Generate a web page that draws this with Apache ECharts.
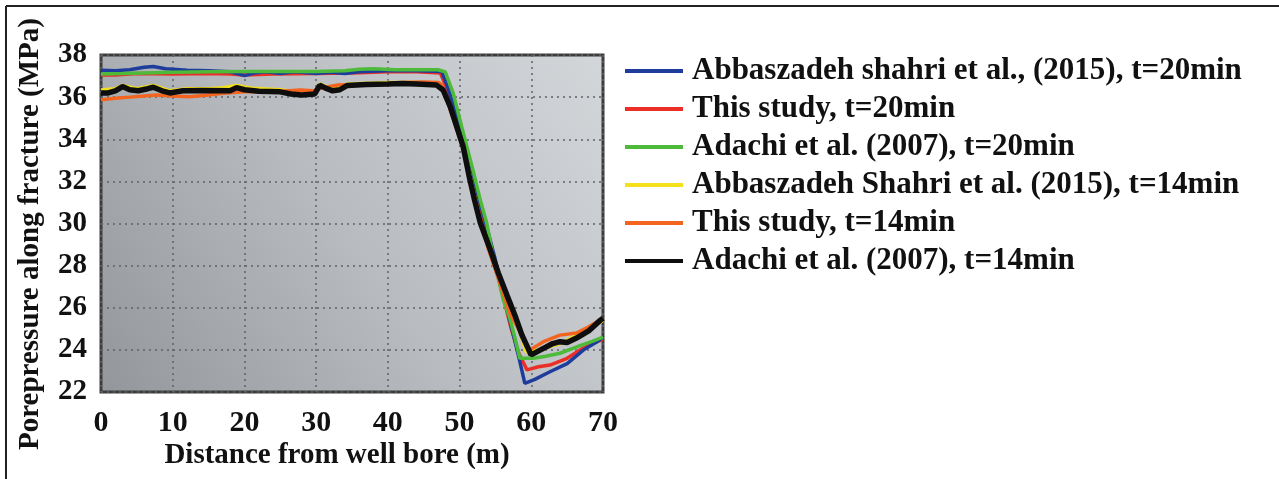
<!DOCTYPE html>
<html>
<head>
<meta charset="utf-8">
<script src="https://cdn.jsdelivr.net/npm/echarts@6/dist/echarts.min.js"></script>
<style>
html,body{margin:0;padding:0;background:#fff;}
#chart{width:1279px;height:479px;}
</style>
</head>
<body>
<div id="chart"></div>
<script>
// ---- data ----
const seriesNames = [
  'Abbaszadeh shahri et al., (2015), t=20min',
  'This study, t=20min',
  'Adachi et al. (2007), t=20min',
  'Abbaszadeh Shahri et al. (2015), t=14min',
  'This study, t=14min',
  'Adachi et al. (2007), t=14min'
];
const xTicks = [0, 10, 20, 30, 40, 50, 60, 70];
const yTicks = [22, 24, 26, 28, 30, 32, 34, 36, 38];

const abbaszadeh20 = [[0,37.28],[2,37.25],[4,37.3],[6,37.42],[7.3,37.45],[9,37.35],[12,37.28],[15,37.25],[18,37.2],[20,37.02],[21.5,37.15],[23,37.2],[25,37.12],[27,37.2],[30,37.12],[32,37.18],[34,37.12],[36,37.2],[40,37.25],[44,37.25],[47.5,37.22],[48.2,36.6],[49.4,35.4],[50.5,34.0],[52,32.0],[53.5,30.2],[54.9,28.4],[56.2,26.5],[57.3,25.0],[58.3,23.6],[59.1,22.41],[60.5,22.6],[62.6,22.96],[65,23.35],[67.3,24.0],[69,24.35],[70,24.6]];
const thisStudy20 = [[0,37.05],[2,37.05],[5,37.12],[10,37.1],[15,37.12],[18,37.1],[20,37.05],[24,37.1],[30,37.12],[35,37.15],[40,37.2],[44,37.2],[47.3,37.15],[48,36.6],[49.3,35.4],[50.4,34.0],[52,31.8],[53.4,30.0],[54.8,28.3],[56.1,26.5],[57.2,25.0],[58.3,23.8],[59.4,23.05],[61,23.2],[62.6,23.28],[65,23.6],[66.8,24.0],[68.5,24.3],[70,24.5]];
const adachi20 = [[0,37.1],[3,37.12],[6,37.15],[10,37.18],[15,37.2],[20,37.22],[25,37.22],[30,37.22],[34,37.25],[36,37.32],[38,37.35],[41,37.3],[44,37.3],[47,37.3],[48,37.2],[49.1,36.2],[50.3,34.6],[51.9,32.5],[52.9,31.1],[53.8,30.0],[54.7,28.4],[56.1,26.37],[57,25.5],[57.7,24.6],[58.4,23.6],[60.3,23.6],[62,23.7],[64,23.84],[66.8,24.2],[68.5,24.4],[70,24.6]];
const abbaszadeh14 = [[0,36.34],[2,36.4],[3,36.55],[5,36.4],[7.3,36.55],[9.6,36.3],[12,36.4],[15,36.4],[17,36.45],[18.9,36.55],[21,36.42],[25,36.35],[28,36.2],[30,36.25],[30.5,36.62],[32.3,36.4],[34.3,36.62],[40,36.7],[44,36.7],[46.8,36.65],[47.7,36.4],[48.7,35.6],[50.5,33.7],[52.9,30.1],[55.4,27.7],[57.7,25.6],[59.3,23.9],[61,24.0],[64,24.3],[67,24.8],[70,25.4]];
const thisStudy14 = [[0,35.87],[2,35.95],[4,36.0],[7.8,36.1],[10,36.05],[12.4,36.02],[15,36.1],[17,36.18],[20,36.25],[24,36.25],[27.8,36.34],[29.5,36.3],[31,36.45],[33,36.58],[36,36.6],[39.3,36.6],[42,36.7],[45,36.72],[47,36.7],[47.5,36.6],[48.3,35.8],[50.3,33.8],[52,31.3],[54,28.8],[55.5,27.3],[57,25.75],[58.5,24.8],[59.8,24.0],[61.7,24.39],[64,24.7],[66.3,24.8],[68,25.1],[70,25.5]];
const adachi14 = [[0,36.2],[1,36.2],[2,36.3],[3,36.5],[4,36.35],[5.2,36.3],[6.5,36.4],[7.3,36.47],[8.5,36.3],[9.6,36.2],[11.4,36.3],[14,36.32],[18,36.3],[18.9,36.45],[20,36.35],[22,36.28],[25,36.25],[26.5,36.15],[28,36.1],[29.8,36.15],[30.5,36.56],[31.5,36.4],[32.3,36.3],[33.3,36.35],[34.3,36.55],[37,36.6],[40,36.62],[42,36.65],[44,36.62],[46.8,36.57],[47.7,36.34],[48.7,35.55],[49.6,34.6],[50.5,33.65],[51.3,32.3],[52.1,31.1],[52.9,30.02],[54.3,28.74],[55.4,27.65],[56.6,26.6],[57.7,25.66],[58.7,24.7],[59.97,23.76],[61.7,24.07],[63,24.3],[64,24.39],[65,24.35],[66.3,24.56],[68,24.9],[69.6,25.4],[70,25.5]];

const seriesData = [abbaszadeh20, thisStudy20, adachi20, abbaszadeh14, thisStudy14, adachi14];
const colors = ['#1e3c9c', '#ec2f26', '#4dba3a', '#f3e01a', '#f3651f', '#0e0e0e'];
const widths = [3.5, 3.5, 3.5, 3.5, 3.5, 5.5];
const zOrder = [2, 1, 3, 4, 5, 6];

const serif = '"Liberation Serif", "Times New Roman", serif';

const chart = echarts.init(document.getElementById('chart'), null, {renderer: 'canvas'});

const series = seriesNames.map((name, i) => ({
  name: name,
  type: 'line',
  data: seriesData[i],
  showSymbol: false,
  symbol: 'none',
  smooth: false,
  z: zOrder[i],
  lineStyle: { color: colors[i], width: widths[i] },
  itemStyle: { color: colors[i] },
  animation: false
}));

chart.setOption({
  animation: false,
  backgroundColor: '#ffffff',
  grid: {
    left: 101, top: 55, right: 676, bottom: 87,
    show: true,
    borderColor: '#3c3c3c',
    borderWidth: 3,
    backgroundColor: new echarts.graphic.LinearGradient(0, 1, 1, 0, [
      { offset: 0, color: '#93979c' },
      { offset: 0.5, color: '#b9bcc0' },
      { offset: 1, color: '#d4d7da' }
    ])
  },
  xAxis: {
    type: 'value', min: 0, max: 70, interval: 10,
    axisLine: { show: false },
    axisTick: { show: false },
    splitLine: { show: true, lineStyle: { color: '#5f6368', width: 1.5, type: [2, 4] } },
    axisLabel: {
      margin: 16,
      fontFamily: serif, fontWeight: 'bold', fontSize: 30, color: '#111',
      formatter: v => xTicks.includes(v) ? String(v) : ''
    }
  },
  yAxis: {
    type: 'value', min: 22, max: 38, interval: 2,
    axisLine: { show: false },
    axisTick: { show: false },
    splitLine: { show: true, lineStyle: { color: '#5f6368', width: 1.5, type: [2, 4] } },
    axisLabel: {
      margin: 14,
      fontFamily: serif, fontWeight: 'bold', fontSize: 29, color: '#111',
      formatter: v => yTicks.includes(v) ? String(v) : ''
    }
  },
  legend: {
    orient: 'vertical',
    left: 620, top: 50,
    icon: 'rect',
    itemWidth: 58, itemHeight: 4,
    itemGap: 6,
    data: seriesNames,
    textStyle: {
      fontFamily: serif, fontWeight: 'bold', fontSize: 31, color: '#111',
      lineHeight: 32, padding: [0, 0, 0, 4]
    }
  },
  graphic: [
    { type: 'line', shape: { x1: 6, y1: 6, x2: 1279, y2: 6 }, style: { stroke: '#222', lineWidth: 2 } },
    { type: 'line', shape: { x1: 6, y1: 6, x2: 6, y2: 479 }, style: { stroke: '#222', lineWidth: 2 } },
    {
      type: 'text', x: 31, y: 234, rotation: Math.PI / 2,
      style: {
        text: 'Porepressure along fracture (MPa)',
        font: 'bold 29px ' + serif, fill: '#111',
        textAlign: 'center', textVerticalAlign: 'middle'
      }
    },
    {
      type: 'text',
      x: 337, y: 456,
      style: {
        text: 'Distance from well bore (m)',
        font: 'bold 29px ' + serif, fill: '#111',
        textAlign: 'center', textVerticalAlign: 'middle'
      }
    }
  ],
  series: series
});
</script>
</body>
</html>
